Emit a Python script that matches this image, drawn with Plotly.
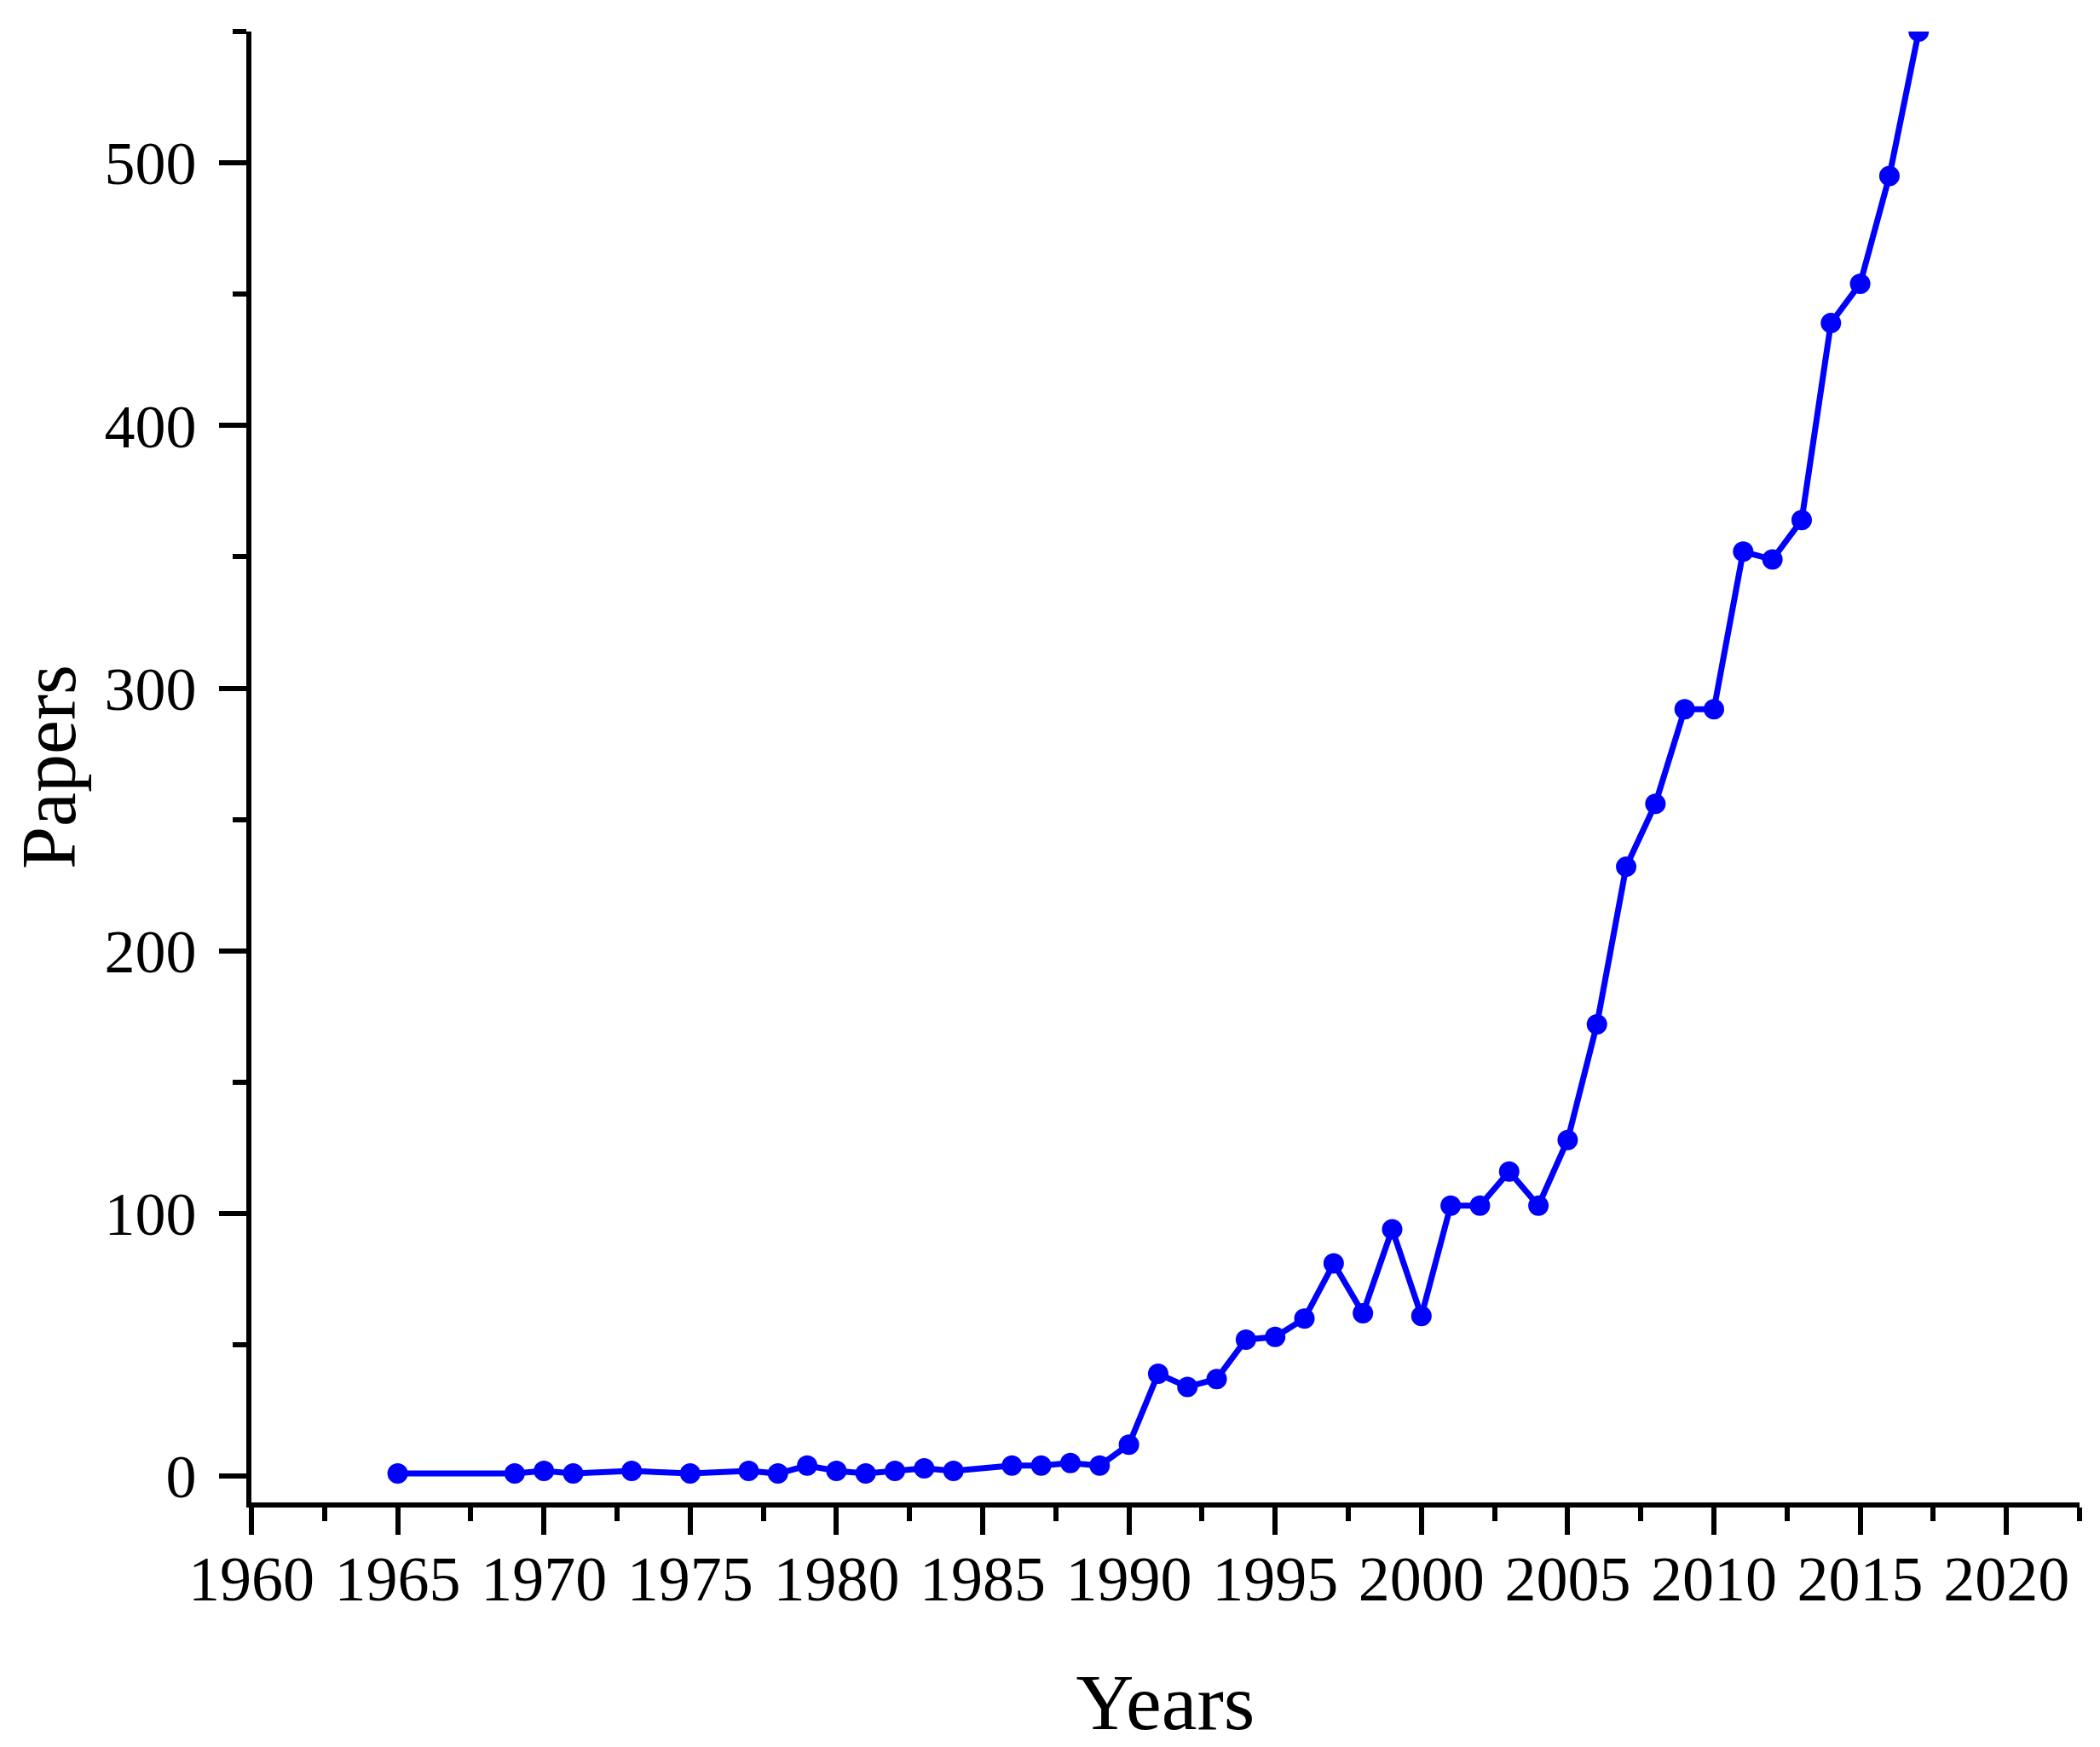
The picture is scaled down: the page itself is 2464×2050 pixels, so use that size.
import plotly.graph_objects as go

years = [1965, 1969, 1970, 1971, 1973, 1975, 1977, 1978, 1979, 1980, 1981, 1982,
         1983, 1984, 1986, 1987, 1988, 1989, 1990, 1991, 1992, 1993, 1994, 1995,
         1996, 1997, 1998, 1999, 2000, 2001, 2002, 2003, 2004, 2005, 2006, 2007,
         2008, 2009, 2010, 2011, 2012, 2013, 2014, 2015, 2016, 2017]
papers = [1, 1, 2, 1, 2, 1, 2, 1, 4, 2, 1, 2,
          3, 2, 4, 4, 5, 4, 12, 39, 34, 37, 52, 53,
          60, 81, 62, 94, 61, 103, 103, 116, 103, 128, 172, 232,
          256, 292, 292, 352, 349, 364, 439, 454, 495, 550]

x_title = "Years"
y_title = "Papers"

FONT = "Liberation Serif"

fig = go.Figure()
fig.add_trace(go.Scatter(
    x=years, y=papers, mode="lines+markers",
    line=dict(color="#0000FF", width=7),
    marker=dict(color="#0000FF", size=24),
    showlegend=False,
))

axis_common = dict(
    showgrid=False, zeroline=False, showline=True, linecolor="black", linewidth=6,
    ticks="outside", ticklen=32, tickwidth=6, tickcolor="black",
)

fig.update_xaxes(
    range=[1960, 2022.5], tick0=1960, dtick=5,
    tickfont=dict(family=FONT, size=74, color="black"),
    ticklabelstandoff=-12,
    minor=dict(ticks="outside", ticklen=16, tickwidth=6, tickcolor="black", dtick=2.5, tick0=1960, showgrid=False),
    title=dict(text=x_title, font=dict(family=FONT, size=94, color="black"), standoff=72),
    **axis_common,
)
fig.update_yaxes(
    range=[-10, 550], tick0=0, dtick=100,
    tickfont=dict(family=FONT, size=72, color="black"),
    ticklabelstandoff=12,
    minor=dict(ticks="outside", ticklen=16, tickwidth=6, tickcolor="black", dtick=50, tick0=0, showgrid=False),
    title=dict(text=y_title, font=dict(family=FONT, size=90, color="black"), standoff=13),
    **axis_common,
)

fig.update_layout(
    width=2464, height=2050,
    margin=dict(l=287, r=32, t=29, b=295, autoexpand=False),
    plot_bgcolor="white", paper_bgcolor="white",
)

fig.write_html("out.html")
